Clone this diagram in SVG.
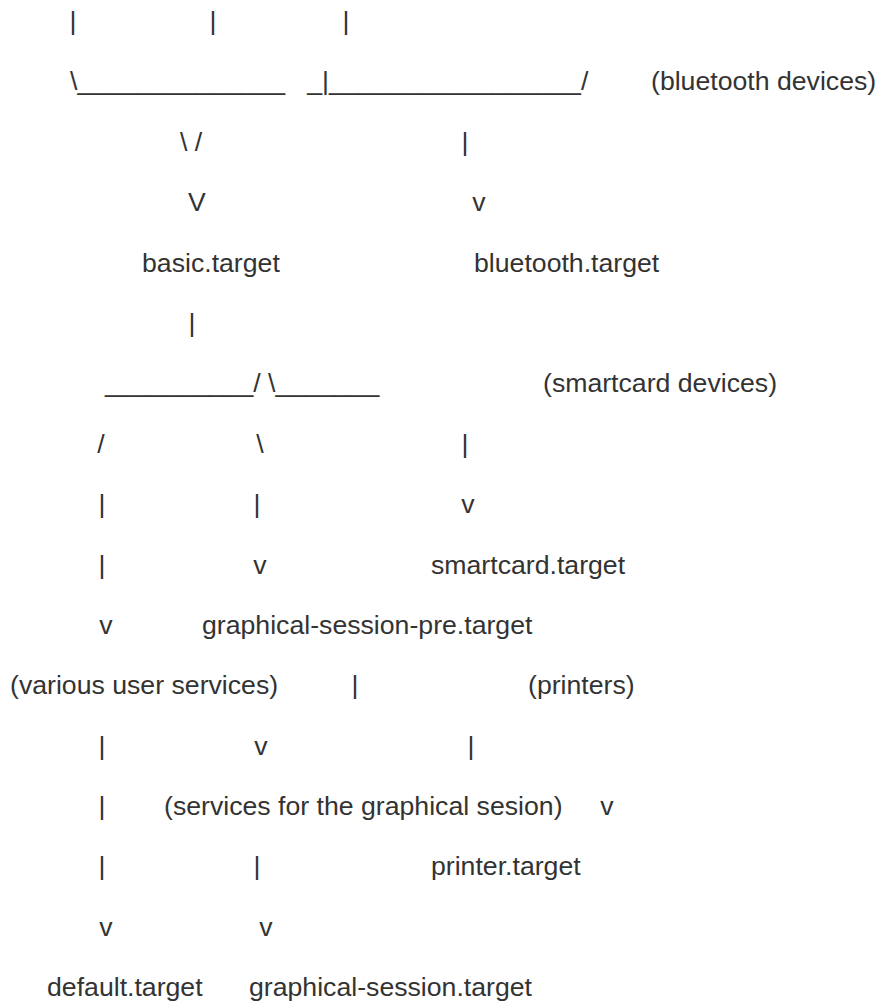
<svg xmlns="http://www.w3.org/2000/svg" width="883" height="1004" viewBox="0 0 883 1004">
<style>
text{font-family:"Liberation Sans",Arial,sans-serif;font-size:26.67px;fill:#333;white-space:pre}
.m{text-anchor:middle}
</style>
<rect width="883" height="1004" fill="#fff"/>
<g id="connectors">
<text class="m" x="73" y="30">|</text>
<text class="m" x="213" y="30">|</text>
<text class="m" x="346" y="30">|</text>
<text x="70" y="90" xml:space="preserve">\______________   _|_________________/</text>
<text x="180" y="151" xml:space="preserve">\ /</text>
<text class="m" x="465" y="151">|</text>
<text class="m" x="197" y="211">V</text>
<text class="m" x="479" y="211">v</text>
<text class="m" x="192" y="332">|</text>
<text x="105" y="392" xml:space="preserve">__________/ \_______</text>
<text class="m" x="101" y="453">/</text>
<text class="m" x="260" y="453">\</text>
<text class="m" x="465" y="453">|</text>
<text class="m" x="102" y="513">|</text>
<text class="m" x="257" y="513">|</text>
<text class="m" x="468" y="513">v</text>
<text class="m" x="102" y="574">|</text>
<text class="m" x="260" y="574">v</text>
<text class="m" x="106" y="634">v</text>
<text class="m" x="355" y="694">|</text>
<text class="m" x="102" y="755">|</text>
<text class="m" x="261" y="755">v</text>
<text class="m" x="471" y="755">|</text>
<text class="m" x="102" y="815">|</text>
<text class="m" x="607" y="815">v</text>
<text class="m" x="102" y="875">|</text>
<text class="m" x="257" y="875">|</text>
<text class="m" x="106" y="936">v</text>
<text class="m" x="266" y="936">v</text>
</g>
<g id="bluetooth-devices"><text x="651" y="90">(bluetooth devices)</text></g>
<g id="basic-target"><text x="142" y="272">basic.target</text></g>
<g id="bluetooth-target"><text x="474" y="272">bluetooth.target</text></g>
<g id="smartcard-devices"><text x="543" y="392">(smartcard devices)</text></g>
<g id="smartcard-target"><text x="431" y="574">smartcard.target</text></g>
<g id="graphical-session-pre-target"><text x="202" y="634">graphical-session-pre.target</text></g>
<g id="various-user-services"><text x="10" y="694">(various user services)</text></g>
<g id="printers"><text x="528" y="694">(printers)</text></g>
<g id="graphical-services"><text x="164" y="815">(services for the graphical sesion)</text></g>
<g id="printer-target"><text x="431" y="875">printer.target</text></g>
<g id="default-target"><text x="47" y="996">default.target</text></g>
<g id="graphical-session-target"><text x="249" y="996">graphical-session.target</text></g>
</svg>
